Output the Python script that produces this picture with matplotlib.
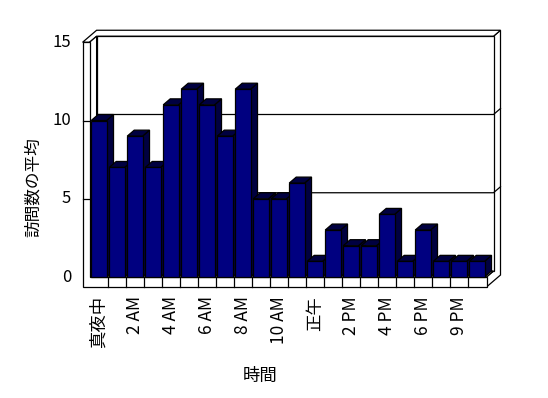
import matplotlib
matplotlib.use('Agg')
import matplotlib.pyplot as plt
from matplotlib.patches import Polygon

plt.rcParams['font.family'] = ['Noto Sans CJK JP', 'DejaVu Sans']

# data
values = [10, 7, 9, 7, 11, 12, 11, 9, 12, 5, 5, 6, 1, 3, 2, 2, 4, 1, 3, 1, 1, 1]
tick_pos = [0, 2, 4, 6, 8, 10, 12, 14, 16, 18, 20]
tick_labels = ['真夜中', '2 AM', '4 AM', '6 AM', '8 AM', '10 AM', '正午',
               '2 PM', '4 PM', '6 PM', '9 PM']
y_ticks = [0, 5, 10, 15]
x_title = '時間'
y_title = '訪問数の平均'

fig = plt.figure(figsize=(5.48, 3.98), dpi=100)
ax = fig.add_axes([0, 0, 1, 1])
# 18 px per category, ~15.65 px per unit
ax.set_xlim(-98.6 / 18, (548 - 98.6) / 18)
ax.set_ylim((277 - 398) / 15.65, 277 / 15.65)
ax.axis('off')

ox, oy = 7 / 18, 6 / 15.65          # depth offset
xL, xR = -0.5, 21.55                 # inner floor ends
xLO = xL - 7 / 18                    # outer face of left wall
vT, vB = 15, -10 / 15.65             # wall top, floor bottom
lw = 0.9
navy = '#000080'
dark = '#000040'


def poly(pts, fc='white', z=1):
    ax.add_patch(Polygon(pts, closed=True, facecolor=fc, edgecolor='black',
                         linewidth=lw, zorder=z))


# right side of walls and floor
poly([(xR, vB), (xR + 2 * ox, vB + 2 * oy), (xR + 2 * ox, vT + 2 * oy),
      (xR + ox, vT + oy), (xR + ox, oy), (xR, 0)])
# top of walls
poly([(xLO, vT), (xL, vT), (xL + ox, vT + oy), (xR + ox, vT + oy),
      (xR + 2 * ox, vT + 2 * oy), (xLO + 2 * ox, vT + 2 * oy)])
# back wall inner face
poly([(xL + ox, oy), (xR + ox, oy), (xR + ox, vT + oy), (xL + ox, vT + oy)])
for g in [5, 10]:
    ax.plot([xL + ox, xR + ox, xR + 2 * ox], [g + oy, g + oy, g + 2 * oy],
            color='black', lw=lw, zorder=2)
# left wall inner face and floor top
poly([(xL, 0), (xL, vT), (xL + ox, vT + oy), (xL + ox, oy)], z=3)
poly([(xL, 0), (xR, 0), (xR + ox, oy), (xL + ox, oy)], z=3)
# front faces of left wall and floor
poly([(xLO, vB), (xR, vB), (xR, 0), (xL, 0), (xL, vT), (xLO, vT)], z=4)
for g in [5, 10]:
    ax.plot([xLO, xL], [g, g], color='black', lw=lw, zorder=5)
for b in range(len(values) - 1):
    ax.plot([b + 0.5, b + 0.5], [vB, 0], color='black', lw=lw, zorder=5)

# bars
bars = ax.bar([i + 0.015 for i in range(len(values))], values, width=0.85,
              color=navy, edgecolor='black', linewidth=lw)
for k, (patch, h) in enumerate(zip(bars, values)):
    x0 = patch.get_x()
    x1 = x0 + patch.get_width()
    z = 10 + 2 * k
    poly([(x1, 0), (x1, h), (x1 + ox, h + oy), (x1 + ox, oy)], fc=dark, z=z)
    poly([(x0, h), (x1, h), (x1 + ox, h + oy), (x0 + ox, h + oy)], fc=dark, z=z)
    patch.set_zorder(z + 1)

# labels
for t in y_ticks:
    ax.text((71 - 98.6) / 18, t, str(t), ha='right', va='center', fontsize=12)
for p, lab in zip(tick_pos, tick_labels):
    ax.text(p, (277 - 296) / 15.65, lab, rotation=90, ha='center', va='top',
            fontsize=12.5)
ax.text((33 - 98.6) / 18, (277 - 187) / 15.65, y_title, rotation=90,
        ha='center', va='center', fontsize=12)
ax.text((260 - 98.6) / 18, (277 - 376) / 15.65, x_title, ha='center',
        va='center', fontsize=12.5)

fig.savefig('out.png', dpi=100)
